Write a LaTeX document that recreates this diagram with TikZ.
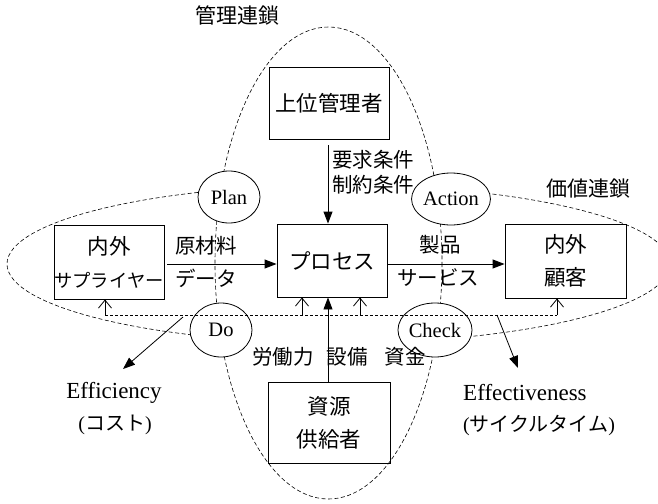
\documentclass[tikz,border=0pt]{standalone}
\usepackage{fontspec}
\setmainfont{Liberation Serif}
\newfontfamily\jp{Noto Sans CJK JP}
\usetikzlibrary{arrows.meta,shapes.geometric}
\begin{document}
\begin{tikzpicture}[x=1pt,y=-1pt,
  box/.style={draw,line width=0.9pt,inner sep=0pt,align=center,font=\jp\fontsize{21.5}{33}\selectfont},
  pdca/.style={draw,ellipse,fill=white,line width=0.8pt,inner sep=0pt,minimum width=62pt,minimum height=52pt,font=\fontsize{20.5}{22}\selectfont},
  lab/.style={inner sep=0pt,font=\jp\fontsize{20.5}{22}\selectfont},
  chain/.style={dash pattern=on 4pt off 2.5pt,line width=0.6pt},
  flow/.style={line width=0.9pt,-{Triangle[length=12pt,width=9pt]}},
  fb/.style={dash pattern=on 3pt off 2pt,line width=0.7pt},
  fbarr/.style={line width=0.8pt,-{Straight Barb[length=8pt,width=13pt]}},
  res/.style={line width=0.8pt,-{Triangle[length=12pt,width=9pt]}},
]
\useasboundingbox (0,0) rectangle (658,503);

% chains
\draw[chain] (328.5,263) ellipse [x radius=113.5, y radius=236];
\begin{scope}
\clip (0,0) rectangle (215,503) (442,0) rectangle (658,503);
\draw[chain] (338.5,264) ellipse [x radius=331.5, y radius=79];
\end{scope}

% boxes
\node[box,minimum width=120pt,minimum height=72pt] (top) at (329,103) {上位管理者};
\node[box,minimum width=110pt,minimum height=73pt] (proc) at (332,260.5) {プロセス};
\node[box,minimum width=110pt,minimum height=74pt] (sup) at (109,262) {内外\\{\fontsize{18.3}{33}\selectfont サプライヤー}};
\node[box,minimum width=121pt,minimum height=74pt] (cus) at (565.5,261) {内外\\顧客};
\node[box,minimum width=122pt,minimum height=81pt] (src) at (329,422.5) {資源\\供給者};

% PDCA circles
\node[pdca] (plan) at (229,197) {Plan};
\node[pdca] (act) at (451,199) {Action};
\node[pdca,minimum height=54pt] (do) at (221,330) {Do};
\node[pdca,minimum width=64pt,minimum height=54pt] (chk) at (435,330) {Check};

% chain labels
\node[lab,font=\jp\fontsize{21}{22}\selectfont] (mgmt) at (237,15) {管理連鎖};
\node[lab,font=\jp\fontsize{21}{22}\selectfont] (val) at (588,189) {価値連鎖};

% main flows
\coordinate (t1) at (328,145);
\draw[flow] (t1) -- (t1 |- proc.north);
\node[lab] (req) at (373,160) {要求条件};
\node[lab] (con) at (373,184.5) {制約条件};

\coordinate (s1) at (167,264);
\draw[flow] (s1) -- (s1 -| proc.west);
\node[lab] (raw) at (206,246) {原材料};
\node[lab] (dat) at (206,278) {データ};

\coordinate (p1) at (388,264);
\draw[flow] (p1) -- (p1 -| cus.west);
\node[lab] (prd) at (440,245) {製品};
\node[lab] (svc) at (438,278) {サービス};

\coordinate (r1) at (328,382);
\draw[res] (r1) -- (r1 |- proc.south);
\node[lab] (lab1) at (283,357) {労働力};
\node[lab] (lab2) at (347,357) {設備};
\node[lab] (lab3) at (405,357) {資金};

% feedback
\coordinate (f1) at (105,315);
\coordinate (f2) at (302,315);
\coordinate (f3) at (360,315);
\coordinate (f4) at (557,315);
\draw[fb] (f1) -- (f4);
\draw[fbarr] (f1) -- (f1 |- sup.south);
\draw[fbarr] (f2) -- (f2 |- proc.south);
\draw[fbarr] (f3) -- (f3 |- proc.south);
\draw[fbarr] (f4) -- (f4 |- cus.south);

% measures
\coordinate (e1) at (183,317);
\coordinate (e2) at (123,369);
\draw[res] (e1) -- (e2);
\coordinate (g1) at (497,315);
\coordinate (g2) at (518,368);
\draw[res] (g1) -- (g2);

\node[inner sep=0pt,font=\fontsize{23}{24}\selectfont] (eff) at (114,393) {Efficiency};
\node[inner sep=0pt,font=\fontsize{20}{22}\selectfont] (cost) at (115,425) {({\jp コスト})};
\node[inner sep=0pt,anchor=west,font=\fontsize{23}{24}\selectfont] (efv) at (463,393) {Effectiveness};
\node[inner sep=0pt,anchor=west,font=\fontsize{20}{22}\selectfont] (cyc) at (463,425) {({\jp サイクルタイム})};
\end{tikzpicture}
\end{document}
